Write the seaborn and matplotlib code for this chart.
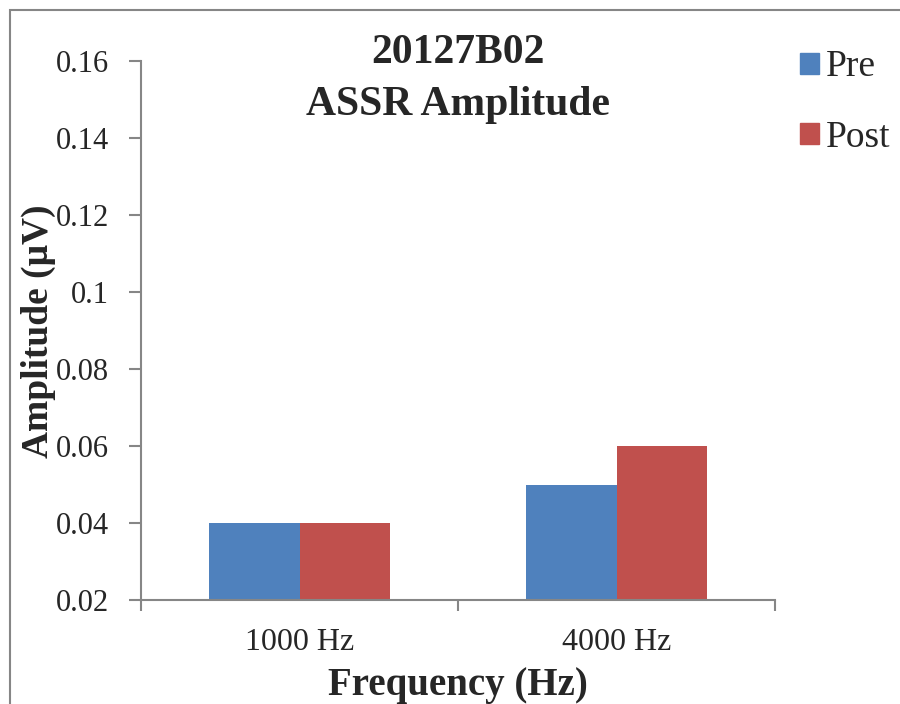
import pandas as pd
import matplotlib
matplotlib.use('Agg')
import matplotlib.pyplot as plt
import matplotlib.patches as mpatches
from matplotlib.ticker import FuncFormatter, FixedLocator
import seaborn as sns

frequencies = ['1000 Hz', '4000 Hz']
pre_values = [0.04, 0.05]
post_values = [0.04, 0.06]
y_ticks = [0.02, 0.04, 0.06, 0.08, 0.1, 0.12, 0.14, 0.16]

df = pd.DataFrame({
    'Frequency': frequencies * 2,
    'Amplitude': pre_values + post_values,
    'Condition': ['Pre'] * len(pre_values) + ['Post'] * len(post_values),
})

sns.set_style('white')
plt.rcParams['font.family'] = ['Liberation Serif', 'DejaVu Serif']

grey = '#868686'
fig = plt.figure(figsize=(9, 7.04), dpi=100)
ax = fig.add_axes([141 / 900, 1 - 600 / 704, (775 - 141) / 900, (600 - 61) / 704])

sns.barplot(data=df, x='Frequency', y='Amplitude', hue='Condition',
            palette={'Pre': '#4F81BD', 'Post': '#C0504D'}, width=0.57,
            saturation=1, gap=0, linewidth=0, legend=False, ax=ax)

ax.set_xlim(-0.5, 1.5)
ax.set_ylim(0.02, 0.16)
ax.set_yticks(y_ticks)
ax.yaxis.set_major_formatter(FuncFormatter(lambda v, p: f'{v:g}'))
ax.tick_params(axis='y', direction='out', length=9, width=1.5, color=grey,
               labelsize=22, pad=14, left=True)
ax.tick_params(axis='x', which='major', length=0, labelsize=23, pad=20)
ax.xaxis.set_minor_locator(FixedLocator([-0.5, 0.5, 1.5]))
ax.tick_params(axis='x', which='minor', direction='out', length=8, width=1.5,
               color=grey, bottom=True)

for side in ['top', 'right']:
    ax.spines[side].set_visible(False)
for side in ['left', 'bottom']:
    ax.spines[side].set_color(grey)
    ax.spines[side].set_linewidth(1.5)

ax.set_xlabel('')
ax.set_ylabel('')
fig.text(458 / 900, 1 - 685 / 704, 'Frequency (Hz)', ha='center', va='center',
         fontsize=28, fontweight='bold')
fig.text(38 / 900, 1 - 331 / 704, 'Amplitude (μV)', ha='center', va='center',
         rotation=90, fontsize=27, fontweight='bold')
fig.text(458 / 900, 1 - 79 / 704, '20127B02\nASSR Amplitude', ha='center',
         va='center', fontsize=30, fontweight='bold', linespacing=1.5)

handles = [mpatches.Patch(color='#4F81BD', label='Pre'),
           mpatches.Patch(color='#C0504D', label='Post')]
fig.legend(handles=handles, loc='upper left', bbox_to_anchor=(800 / 900, 1 - 50 / 704),
           frameon=False, fontsize=27, handlelength=0.5, handleheight=0.5,
           handletextpad=0.2, labelspacing=0.95, borderpad=0, borderaxespad=0)

border = mpatches.Rectangle((10 / 900, -0.1), 1.0, 1.1 - 10 / 704,
                            transform=fig.transFigure, fill=False,
                            edgecolor=grey, linewidth=1.5)
fig.patches.append(border)

fig.savefig('out.png', dpi=100)
